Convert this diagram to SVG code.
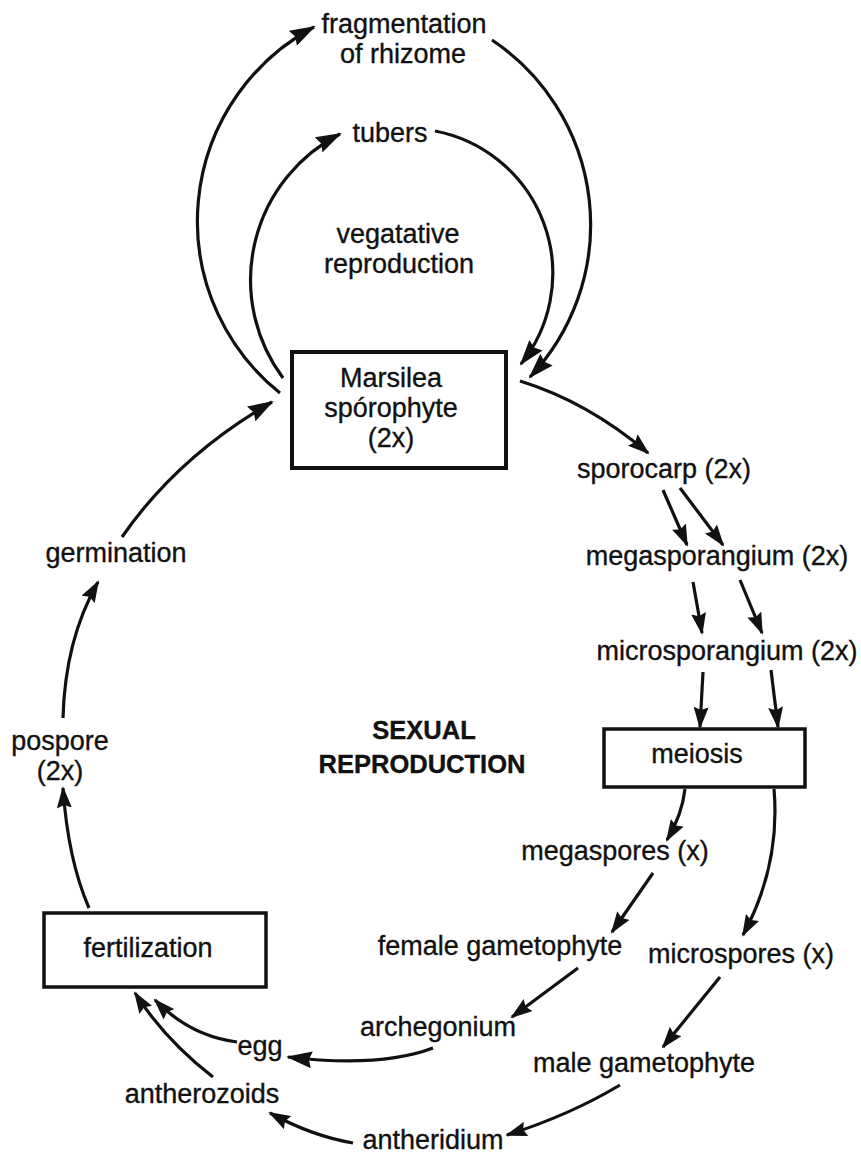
<svg xmlns="http://www.w3.org/2000/svg" width="861" height="1157" viewBox="0 0 861 1157">
<style>
  text { font-family: "Liberation Sans", Arial, sans-serif; font-size: 27px; fill: #111; text-anchor: middle; stroke: #111; stroke-width: 0.35px; }
  text.bold { font-weight: bold; font-size: 25.5px; }
  .box { fill: #fff; stroke: #111; stroke-width: 4; }
  .edge { fill: none; stroke: #111; stroke-width: 3.2; marker-end: url(#arrow); }
  .big { marker-end: url(#arrowBig); }
</style>
<defs>
  <marker id="arrow" markerUnits="userSpaceOnUse" viewBox="0 0 22 15" markerWidth="22" markerHeight="15" refX="20" refY="7.5" orient="auto">
    <path d="M0,0 L22,7.5 L0,15 L3,7.5 z" fill="#111"/>
  </marker>
  <marker id="arrowBig" markerUnits="userSpaceOnUse" viewBox="0 0 26 17" markerWidth="26" markerHeight="17" refX="24" refY="8.5" orient="auto">
    <path d="M0,0 L26,8.5 L0,17 L3,8.5 z" fill="#111"/>
  </marker>
</defs>
<rect width="861" height="1157" fill="#fff"/>

<g id="connectors">
  <path class="edge big" d="M280,393 A220,220 0 0 1 314,27"/>
  <path class="edge big" d="M283,378 A164,164 0 0 1 340,134"/>
  <path class="edge big" d="M435,131 A145,145 0 0 1 521,364"/>
  <path class="edge big" d="M492,40 A222,222 0 0 1 530,377"/>
  <path class="edge" d="M520,381 Q588,402 648,453"/>
  <path class="edge" d="M663,490 L687,545"/>
  <path class="edge" d="M680,488 L723,545"/>
  <path class="edge" d="M693,582 L702,633"/>
  <path class="edge" d="M740,580 L762,633"/>
  <path class="edge" d="M703,672 L700,727"/>
  <path class="edge" d="M771,670 L778,727"/>
  <path class="edge" d="M685,789 Q682,815 667,840"/>
  <path class="edge" d="M774,789 C778,835 770,885 743,935"/>
  <path class="edge" d="M653,873 L612,932"/>
  <path class="edge" d="M578,968 L512,1017"/>
  <path class="edge big" d="M433,1048 Q380,1068 288,1057"/>
  <path class="edge" d="M720,977 L663,1047"/>
  <path class="edge" d="M620,1085 Q570,1115 507,1135"/>
  <path class="edge" d="M353,1143 Q312,1136 270,1113"/>
  <path class="edge" d="M237,1042 Q190,1036 155,1000"/>
  <path class="edge" d="M213,1077 Q165,1040 135,993"/>
  <path class="edge" d="M89,908 Q68,860 63,788"/>
  <path class="edge" d="M63,718 Q65,640 98,582"/>
  <path class="edge big" d="M122,537 Q178,456 272,402"/>
</g>

<g id="fragmentation"><text x="404" y="33">fragmentation</text><text x="403" y="63">of rhizome</text></g>
<g id="tubers"><text x="390" y="142">tubers</text></g>
<g id="vegetative"><text x="398" y="243">vegatative</text><text x="399" y="273">reproduction</text></g>
<g id="sporophyte">
  <rect class="box" x="292" y="352" width="214" height="116"/>
  <text x="391" y="387">Marsilea</text>
  <text x="391" y="417">spórophyte</text>
  <text x="391" y="447">(2x)</text>
</g>
<g id="sporocarp"><text x="664" y="478">sporocarp (2x)</text></g>
<g id="megasporangium"><text x="717" y="565">megasporangium (2x)</text></g>
<g id="microsporangium"><text x="727" y="660">microsporangium (2x)</text></g>
<g id="meiosis">
  <rect class="box" x="604" y="729" width="201" height="58" style="stroke-width:3.5"/>
  <text x="697" y="763">meiosis</text>
</g>
<g id="sexual"><text class="bold" x="424" y="739">SEXUAL</text><text class="bold" x="422" y="773">REPRODUCTION</text></g>
<g id="germination"><text x="116" y="562">germination</text></g>
<g id="pospore"><text x="60" y="750">pospore</text><text x="60" y="780">(2x)</text></g>
<g id="fertilization">
  <rect class="box" x="44" y="913" width="222" height="74" style="stroke-width:3.5"/>
  <text x="148" y="957">fertilization</text>
</g>
<g id="megaspores"><text x="615" y="860">megaspores (x)</text></g>
<g id="female-gametophyte"><text x="500" y="955">female gametophyte</text></g>
<g id="microspores"><text x="741" y="963">microspores (x)</text></g>
<g id="archegonium"><text x="438" y="1036">archegonium</text></g>
<g id="egg"><text x="260" y="1055">egg</text></g>
<g id="male-gametophyte"><text x="644" y="1072">male gametophyte</text></g>
<g id="antherozoids"><text x="202" y="1103">antherozoids</text></g>
<g id="antheridium"><text x="433" y="1149">antheridium</text></g>
</svg>
